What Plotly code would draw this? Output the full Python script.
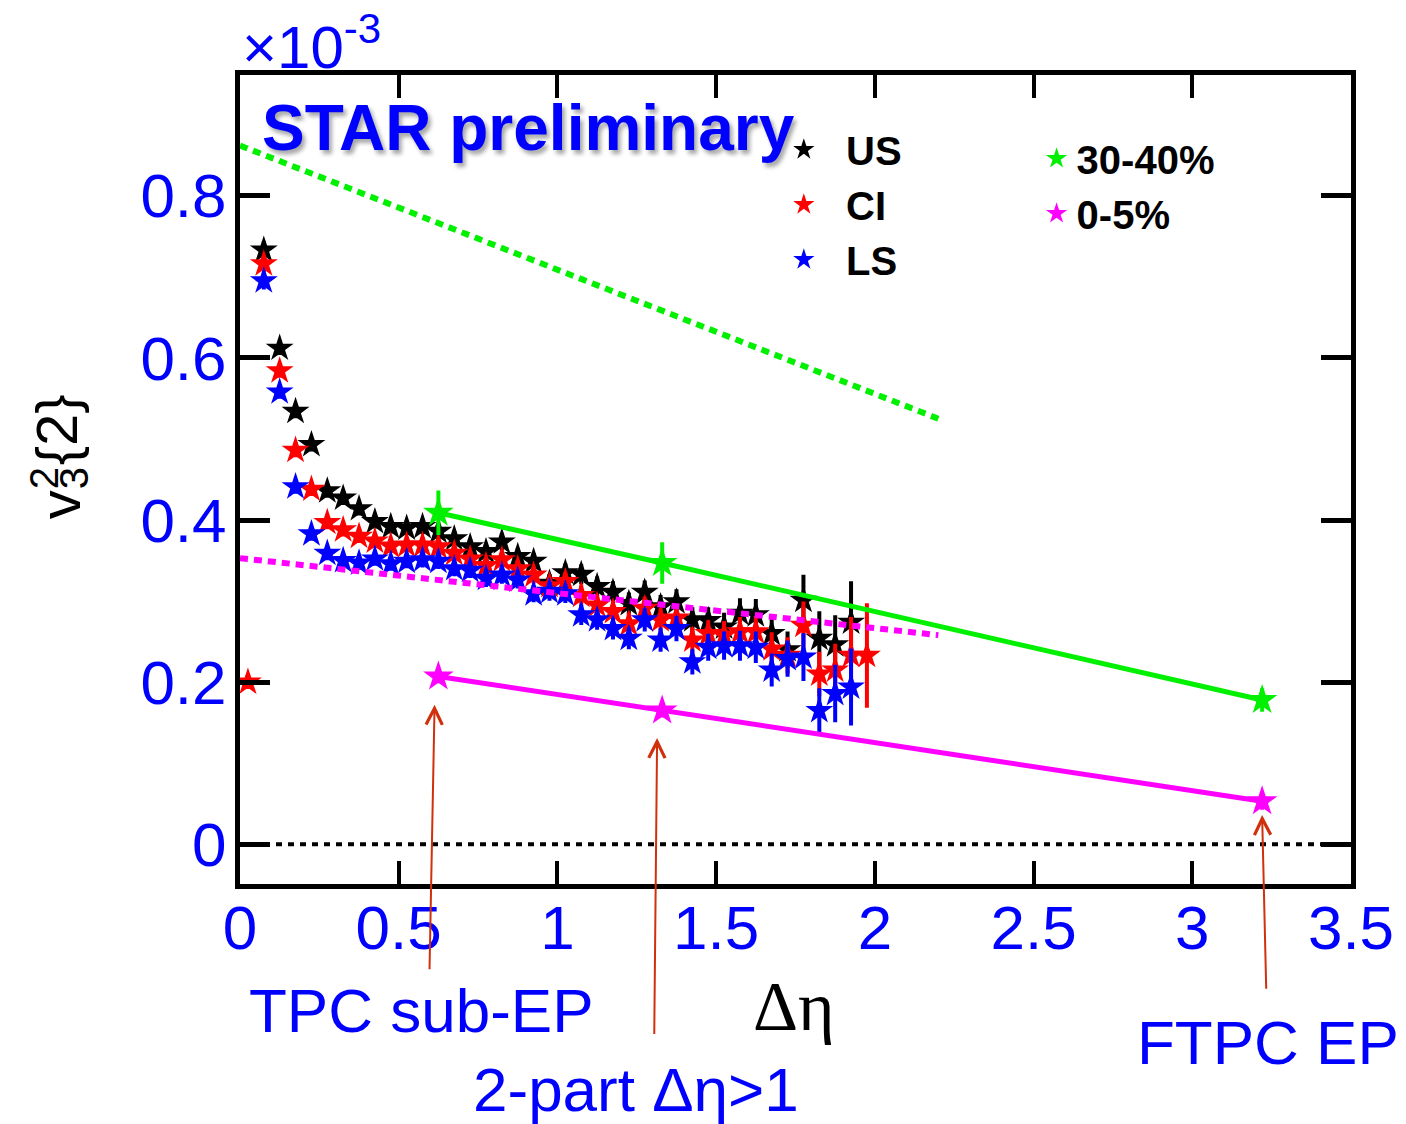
import plotly.graph_objects as go

# ---- data (v3^2{2} in units of 1e-3) ----
deta = [0.075, 0.125, 0.175, 0.225, 0.275, 0.325, 0.375, 0.425, 0.475, 0.525,
        0.575, 0.625, 0.675, 0.725, 0.775, 0.825, 0.875, 0.925, 0.975, 1.025,
        1.075, 1.125, 1.175, 1.225, 1.275, 1.325, 1.375, 1.425, 1.475, 1.525,
        1.575, 1.625, 1.675, 1.725, 1.775, 1.825, 1.875, 1.925]
deta_ci = [0.025] + deta + [1.975]

v_us = [0.733, 0.612, 0.534, 0.493, 0.436, 0.427, 0.414, 0.398, 0.392, 0.390,
        0.392, 0.386, 0.377, 0.367, 0.361, 0.373, 0.355, 0.349, 0.322, 0.335,
        0.333, 0.318, 0.311, 0.297, 0.311, 0.293, 0.299, 0.277, 0.276, 0.268,
        0.285, 0.283, 0.260, 0.240, 0.301, 0.254, 0.246, 0.274]
e_us = [0.008, 0.006, 0.006, 0.006, 0.006, 0.006, 0.006, 0.006, 0.006, 0.006,
        0.007, 0.007, 0.007, 0.007, 0.008, 0.008, 0.008, 0.008, 0.009, 0.009,
        0.010, 0.010, 0.011, 0.011, 0.012, 0.012, 0.013, 0.013, 0.014, 0.015,
        0.016, 0.017, 0.018, 0.020, 0.029, 0.031, 0.034, 0.048]

v_ci = [0.200,
        0.716, 0.584, 0.486, 0.438, 0.397, 0.388, 0.380, 0.374, 0.368, 0.369,
        0.369, 0.367, 0.359, 0.352, 0.344, 0.351, 0.340, 0.332, 0.319, 0.324,
        0.307, 0.295, 0.287, 0.272, 0.291, 0.277, 0.279, 0.252, 0.260, 0.258,
        0.262, 0.262, 0.241, 0.233, 0.270, 0.210, 0.215, 0.233,
        0.233]
e_ci = [0.006,
        0.008, 0.006, 0.006, 0.006, 0.006, 0.006, 0.006, 0.006, 0.006, 0.006,
        0.007, 0.007, 0.007, 0.007, 0.008, 0.008, 0.008, 0.008, 0.009, 0.009,
        0.010, 0.010, 0.011, 0.011, 0.012, 0.012, 0.013, 0.013, 0.014, 0.015,
        0.016, 0.017, 0.018, 0.020, 0.027, 0.025, 0.030, 0.045,
        0.062]

v_ls = [0.695, 0.558, 0.441, 0.383, 0.359, 0.350, 0.347, 0.352, 0.346, 0.349,
        0.351, 0.349, 0.340, 0.338, 0.328, 0.332, 0.326, 0.309, 0.312, 0.309,
        0.283, 0.277, 0.266, 0.254, 0.277, 0.252, 0.266, 0.225, 0.243, 0.245,
        0.245, 0.243, 0.215, 0.229, 0.231, 0.165, 0.186, 0.194]
e_ls = [0.008, 0.006, 0.006, 0.006, 0.006, 0.006, 0.006, 0.006, 0.006, 0.006,
        0.007, 0.007, 0.007, 0.007, 0.008, 0.008, 0.008, 0.008, 0.009, 0.009,
        0.010, 0.010, 0.011, 0.011, 0.012, 0.012, 0.013, 0.013, 0.014, 0.015,
        0.016, 0.017, 0.018, 0.020, 0.027, 0.025, 0.033, 0.045]

# event-plane results for two centralities
ep_x = [0.625, 1.33, 3.22]
v_3040 = [0.409, 0.347, 0.178]
e_3040 = [0.025, 0.023, 0.012]
v_005 = [0.207, 0.165, 0.053]
e_005 = [0.006, 0.006, 0.008]

# dotted reference lines (end points)
ref_x = [0.0, 2.2]
ref_3040 = [0.862, 0.525]
ref_005 = [0.353, 0.258]

zero_x = [0.0, 3.5]
zero_y = [0.0, 0.0]

# labelled arrows: (tail_x, tail_y, head_x, head_y)
arrow_tail_x = [0.597, 1.305, 3.233]
arrow_tail_y = [-0.156, -0.236, -0.180]
arrow_head_x = [0.613, 1.314, 3.220]
arrow_head_y = [0.172, 0.131, 0.036]

x_ticks = [0, 0.5, 1, 1.5, 2, 2.5, 3, 3.5]
x_ticktext = ["0", "0.5", "1", "1.5", "2", "2.5", "3", "3.5"]
y_ticks = [0, 0.2, 0.4, 0.6, 0.8]
y_ticktext = ["0", "0.2", "0.4", "0.6", "0.8"]

BLUE = "#0000ff"
GREEN = "#00f000"
MAGENTA = "#ff00ff"
ARROW = "#d0300c"
SANS = "Liberation Sans"

fig = go.Figure()

fig.add_trace(go.Scatter(x=zero_x, y=zero_y, mode="lines", showlegend=False,
                         line=dict(color="black", width=4, dash="6px,6px")))
fig.add_trace(go.Scatter(x=ref_x, y=ref_3040, mode="lines", showlegend=False,
                         line=dict(color=GREEN, width=6, dash="8px,6px")))


def series(x, y, e, color, name):
    return go.Scatter(
        x=x, y=y, mode="markers", name=name, legend="legend",
        legendgroup=name,
        marker=dict(symbol="star", size=21, color=color,
                    line=dict(width=0)),
        error_y=dict(type="data", array=e, color=color, thickness=4, width=2),
    )


fig.add_trace(series(deta, v_us, e_us, "black", "&nbsp;&nbsp;US"))
fig.add_trace(series(deta_ci, v_ci, e_ci, "#ff0000", "&nbsp;&nbsp;CI"))
fig.add_trace(series(deta, v_ls, e_ls, BLUE, "&nbsp;&nbsp;LS"))

fig.add_trace(go.Scatter(x=ref_x, y=ref_005, mode="lines", showlegend=False,
                         line=dict(color=MAGENTA, width=6, dash="8px,6px")))

for vals, errs, color in [(v_3040, e_3040, GREEN), (v_005, e_005, MAGENTA)]:
    fig.add_trace(go.Scatter(
        x=ep_x, y=vals, mode="lines+markers", showlegend=False,
        line=dict(color=color, width=5),
        marker=dict(symbol="star", size=23, color=color),
        error_y=dict(type="data", array=errs, color=color, thickness=4, width=2),
    ))

# legend entries for the centrality classes
for name, color in [("30-40%", GREEN), ("0-5%", MAGENTA)]:
    fig.add_trace(go.Scatter(x=[None], y=[None], mode="markers", name=name,
                             legend="legend2", legendgroup=name,
                             marker=dict(symbol="star", size=22, color=color)))

legend_font = dict(family=SANS, size=40, color="black", weight="bold")

annotations = []

# arrows from the method labels
for tx, ty, hx, hy in zip(arrow_tail_x, arrow_tail_y, arrow_head_x, arrow_head_y):
    annotations.append(dict(
        x=hx, y=hy, xref="x", yref="y", ax=tx, ay=ty, axref="x", ayref="y",
        text="", showarrow=True, arrowhead=5, arrowsize=1.6, arrowwidth=2,
        arrowcolor=ARROW, standoff=0,
    ))

label_font = dict(family=SANS, size=62, color=BLUE)
for txt, px_, py_ in [("TPC sub-EP", 0.1635, -0.156),
                      ("2-part Δη>1", 0.3566, -0.2546),
                      ("FTPC EP", 0.9254, -0.1965)]:
    annotations.append(dict(text=txt, x=px_, y=py_, xref="paper", yref="paper",
                            xanchor="center", yanchor="middle", showarrow=False,
                            font=label_font))

# x-axis title
annotations.append(dict(text="Δη", x=0.4987, y=-0.151, xref="paper", yref="paper",
                        xanchor="center", yanchor="middle", showarrow=False,
                        font=dict(family="Liberation Serif", size=70, color="black")))

# y-axis title v_3^2{2} with stacked indices
ytitle_font = dict(family=SANS, size=58, color="black")
idx_font = dict(family=SANS, size=40, color="black")
for txt, fx, fy, f in [("v", -0.1617, 0.4685, ytitle_font),
                       ("2", -0.1761, 0.5019, idx_font),
                       ("3", -0.1491, 0.5019, idx_font),
                       ("{2}", -0.1644, 0.5612, ytitle_font)]:
    annotations.append(dict(text=txt, x=fx, y=fy, xref="paper", yref="paper",
                            xanchor="center", yanchor="middle", textangle=-90,
                            showarrow=False, font=f))

# axis multiplier
annotations.append(dict(text="×10<sup>-3</sup>", x=0.0, y=1.04, xref="paper",
                        yref="paper", xanchor="left", yanchor="middle",
                        showarrow=False, font=dict(family=SANS, size=60, color=BLUE)))

# STAR preliminary tag
annotations.append(dict(text="<b>STAR preliminary</b>", x=0.0178, y=0.934,
                        xref="paper", yref="paper", xanchor="left", yanchor="middle",
                        showarrow=False,
                        font=dict(family=SANS, size=64, color=BLUE,
                                  shadow="3px 4px 4px rgba(0,0,0,0.35)")))

fig.update_layout(
    width=1406, height=1124,
    margin=dict(l=240, r=53, t=75, b=240),
    plot_bgcolor="white", paper_bgcolor="white",
    annotations=annotations,
    legend=dict(x=0.4895, y=0.948, xanchor="left", yanchor="top",
                bgcolor="rgba(0,0,0,0)", font=legend_font,
                tracegroupgap=0, itemsizing="trace"),
    legend2=dict(x=0.717, y=0.937, xanchor="left", yanchor="top",
                 bgcolor="rgba(0,0,0,0)", font=legend_font,
                 tracegroupgap=0, itemsizing="trace"),
    xaxis=dict(range=[0, 3.5], tickvals=x_ticks, ticktext=x_ticktext,
               ticks="inside", ticklen=23, tickwidth=4, tickcolor="black",
               showline=True, linewidth=5, linecolor="black", mirror="ticks",
               showgrid=False, zeroline=False, ticklabelstandoff=-14,
               tickfont=dict(family=SANS, size=62, color=BLUE)),
    yaxis=dict(range=[-0.049, 0.949], tickvals=y_ticks, ticktext=y_ticktext,
               ticks="inside", ticklen=30, tickwidth=5, tickcolor="black",
               showline=True, linewidth=5, linecolor="black", mirror="ticks",
               showgrid=False, zeroline=False, ticklabelstandoff=-4,
               tickfont=dict(family=SANS, size=62, color=BLUE)),
)

fig.write_html("out.html")
